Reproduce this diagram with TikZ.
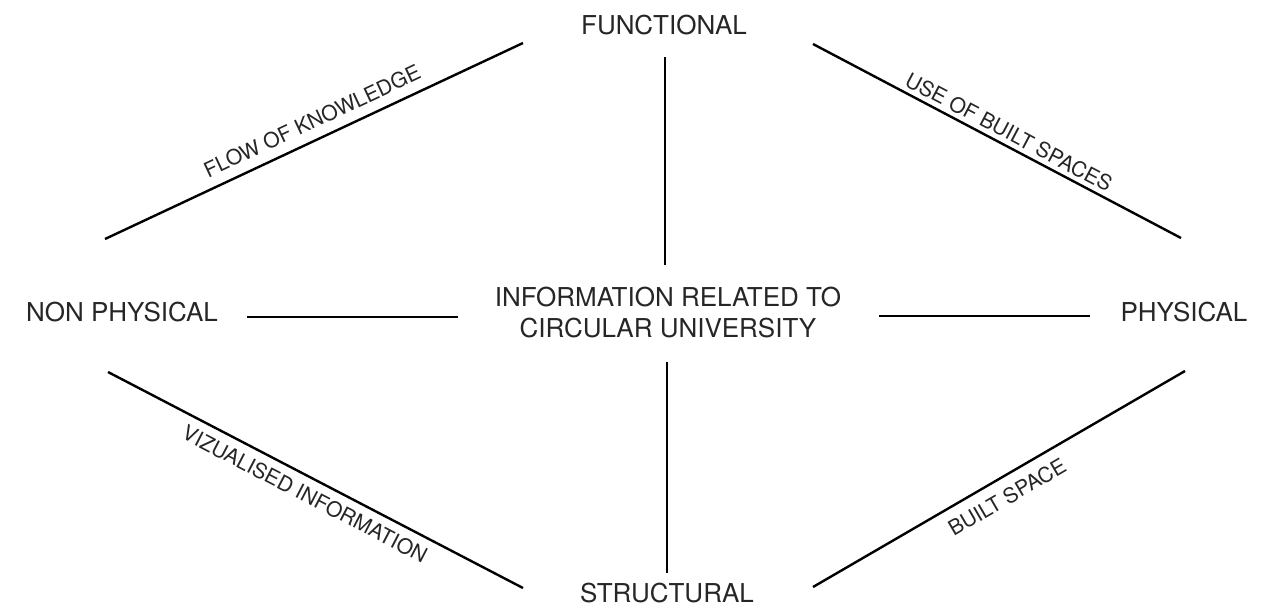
\documentclass[tikz,border=0pt]{standalone}
\usepackage{fontspec}
\setmainfont{TeX Gyre Heros}
\begin{document}
\begin{tikzpicture}[x=0.5pt,y=-0.5pt,
  term/.style={font=\fontsize{13}{15.5}\selectfont, text=black!85, inner sep=0pt, align=center},
  edgelabel/.style={font=\fontsize{10.5}{12}\selectfont, text=black!85, inner sep=0pt},
  link/.style={line width=1.2pt, black}]
\useasboundingbox (0,0) rectangle (1281,612);

% corner terms and the central topic
\node[term] (fun) at (664,25) {FUNCTIONAL};
\node[term] (str) at (667,593) {STRUCTURAL};
\node[term] (nph) at (122,312) {NON PHYSICAL};
\node[term] (phy) at (1184,312) {PHYSICAL};
\node[term] (ctr) at (668,313) {INFORMATION RELATED TO\\CIRCULAR UNIVERSITY};

% line end points
\coordinate (vt1) at (665,57);  \coordinate (vt2) at (665,265);
\coordinate (vb1) at (667,362); \coordinate (vb2) at (667,573);
\coordinate (hl1) at (247,317); \coordinate (hl2) at (458,317);
\coordinate (hr1) at (879,316); \coordinate (hr2) at (1090,316);
\coordinate (tl1) at (105,239); \coordinate (tl2) at (523,43);
\coordinate (tr1) at (813,44);  \coordinate (tr2) at (1181,238);
\coordinate (bl1) at (108,372); \coordinate (bl2) at (523,588);
\coordinate (br1) at (813,587); \coordinate (br2) at (1185,371);

% spokes from the centre
\draw[link] (vt1) -- (vt2);
\draw[link] (vb1) -- (vb2);
\draw[link] (hl1) -- (hl2);
\draw[link] (hr1) -- (hr2);

% outer links
\draw[link] (tl1) -- (tl2);
\draw[link] (tr1) -- (tr2);
\draw[link] (bl1) -- (bl2);
\draw[link] (br1) -- (br2);

% link labels
\node[edgelabel, rotate=25.1] (lflow) at (312,121) {FLOW OF KNOWLEDGE};
\node[edgelabel, rotate=-27.8] (luse) at (1009,132) {USE OF BUILT SPACES};
\node[edgelabel, rotate=-27.5] (lviz) at (305,494) {VIZUALISED INFORMATION};
\node[edgelabel, rotate=30.2] (lbui) at (1007,497) {BUILT SPACE};
\end{tikzpicture}
\end{document}
